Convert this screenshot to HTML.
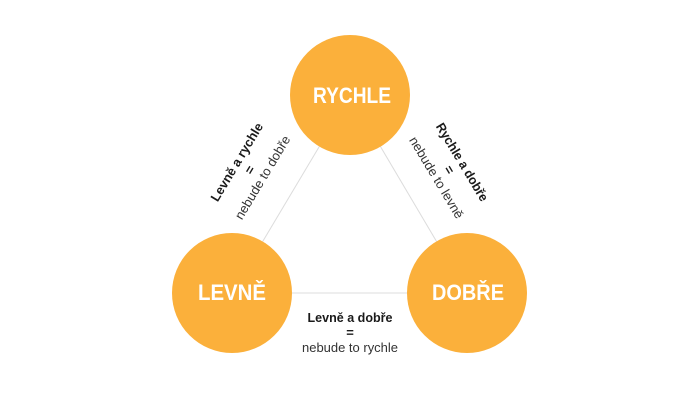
<!DOCTYPE html>
<html>
<head>
<meta charset="utf-8">
<style>
  html,body{margin:0;padding:0;background:#fff;}
  svg{display:block;}
  .t{font-family:"Liberation Sans",sans-serif;}
</style>
</head>
<body>
<svg width="700" height="400" viewBox="0 0 700 400" xmlns="http://www.w3.org/2000/svg">
  <rect width="700" height="400" fill="#fff"/>
  <!-- connectors -->
  <line x1="350" y1="95" x2="232" y2="293" stroke="#dcdcdc" stroke-width="1"/>
  <line x1="350" y1="95" x2="467" y2="293" stroke="#dcdcdc" stroke-width="1"/>
  <line x1="232" y1="293" x2="467" y2="293" stroke="#dcdcdc" stroke-width="1"/>
  <!-- circles -->
  <circle cx="350" cy="95" r="60" fill="#fbb03b"/>
  <circle cx="232" cy="293" r="60" fill="#fbb03b"/>
  <circle cx="467" cy="293" r="60" fill="#fbb03b"/>
  <!-- circle labels -->
  <text class="t" x="352" y="103" font-size="22" font-weight="bold" fill="#fff" text-anchor="middle" textLength="78" lengthAdjust="spacingAndGlyphs">RYCHLE</text>
  <text class="t" x="232" y="300" font-size="22" font-weight="bold" fill="#fff" text-anchor="middle" textLength="68" lengthAdjust="spacingAndGlyphs">LEVNĚ</text>
  <text class="t" x="468" y="300" font-size="22" font-weight="bold" fill="#fff" text-anchor="middle" textLength="72" lengthAdjust="spacingAndGlyphs">DOBŘE</text>

  <!-- bottom label -->
  <g transform="translate(350,333)">
    <text class="t" x="0" y="-11" font-size="13" font-weight="bold" fill="#1a1a1a" text-anchor="middle" textLength="85" lengthAdjust="spacingAndGlyphs">Levně a dobře</text>
    <text class="t" x="0" y="4" font-size="13" font-weight="bold" fill="#1a1a1a" text-anchor="middle">=</text>
    <text class="t" x="0" y="19" font-size="13" fill="#333" text-anchor="middle" textLength="96" lengthAdjust="spacingAndGlyphs">nebude to rychle</text>
  </g>

  <!-- left label -->
  <g transform="translate(250,170) rotate(-59)">
    <text class="t" x="0" y="-11" font-size="13" font-weight="bold" fill="#1a1a1a" text-anchor="middle" textLength="89" lengthAdjust="spacingAndGlyphs">Levně a rychle</text>
    <text class="t" x="0" y="4" font-size="13" font-weight="bold" fill="#1a1a1a" text-anchor="middle">=</text>
    <text class="t" x="0" y="19" font-size="13" fill="#333" text-anchor="middle" textLength="95" lengthAdjust="spacingAndGlyphs">nebude to dobře</text>
  </g>

  <!-- right label -->
  <g transform="translate(449,170) rotate(59)">
    <text class="t" x="0" y="-11" font-size="13" font-weight="bold" fill="#1a1a1a" text-anchor="middle" textLength="89" lengthAdjust="spacingAndGlyphs">Rychle a dobře</text>
    <text class="t" x="0" y="4" font-size="13" font-weight="bold" fill="#1a1a1a" text-anchor="middle">=</text>
    <text class="t" x="0" y="19" font-size="13" fill="#333" text-anchor="middle" textLength="93" lengthAdjust="spacingAndGlyphs">nebude to levně</text>
  </g>
</svg>
</body>
</html>
